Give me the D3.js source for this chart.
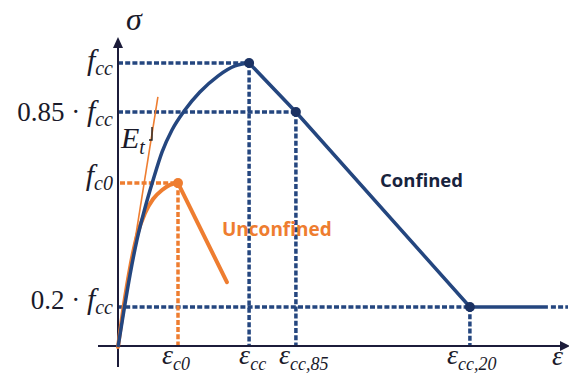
<!DOCTYPE html>
<html>
<head>
<meta charset="utf-8">
<script src="https://cdn.jsdelivr.net/npm/d3@7/dist/d3.min.js"></script>
<style>
  html, body { margin: 0; padding: 0; background: #fff; }
  svg { display: block; }
</style>
</head>
<body>
<svg id="chart" width="569" height="376"></svg>
<script>
// Schematic stress–strain model for confined and unconfined concrete.
// Strain in ‰, stress as a fraction of the confined strength f_cc
// (the stress axis is drawn schematically, not to one uniform scale).

// Characteristic strains
const epsC0 = 2.0, epsCC = 4.37, epsCC85 = 5.93, epsCC20 = 11.73, epsEnd = 15.0;
// Characteristic stress levels
const fcc = 1.0, fcc85 = 0.85, fcc20 = 0.2, fc0 = 0.613;

// Confined curve, ascending branch
const confinedStrain = [0, 0.2, 0.4, 0.63, 0.9, 1.17, 1.47, 1.8, 2.23, 2.73, 3.33, 3.9, 4.37];
const confinedStress = [0, 0.185, 0.307, 0.423, 0.53, 0.623, 0.717, 0.79, 0.856, 0.911, 0.96, 0.991, 1.0];
// Confined curve, softening branch and residual plateau
const confinedTailStrain = [4.37, 5.93, 11.73, 14.33];
const confinedTailStress = [1.0, 0.85, 0.2, 0.2];

// Unconfined curve, ascending branch
const unconfinedStrain = [0, 0.2, 0.4, 0.63, 0.9, 1.17, 1.47, 1.73, 2.0];
const unconfinedStress = [0, 0.21, 0.33, 0.437, 0.513, 0.56, 0.59, 0.607, 0.613];
// Unconfined softening branch
const unconfinedTailStrain = [2.0, 3.63];
const unconfinedTailStress = [0.613, 0.283];

// Tangent modulus line E_t
const tangentStrain = [0, 1.33];
const tangentStress = [0, 0.896];

const svg = d3.select("#chart");

const x = d3.scaleLinear().domain([0, epsEnd]).range([118, 568]);
const y = d3.scaleLinear().domain([0, fcc20, fcc85, fcc]).range([347, 307, 112, 63]);

const BLUE = "#24467f", DOT = "#1b3263", ORANGE = "#ee7d30", AXIS = "#1c1c3a", INK = "#1a1a2a";

const zip = (xs, ys) => xs.map((v, i) => [v, ys[i]]);
const line = d3.line().x(d => x(d[0])).y(d => y(d[1]));
const smooth = d3.line().x(d => x(d[0])).y(d => y(d[1])).curve(d3.curveMonotoneX);

// Dotted reference lines
const dotted = (g, x1, y1, x2, y2, color) =>
  g.append("line").attr("x1", x1).attr("y1", y1).attr("x2", x2).attr("y2", y2)
    .attr("stroke", color).attr("stroke-width", 3.5).attr("stroke-dasharray", "5,2.2");

const guides = svg.append("g");
[[epsCC, fcc], [epsCC85, fcc85], [epsCC20, fcc20]].forEach(([e, s]) => {
  dotted(guides, x(0), y(s), x(e), y(s), BLUE);
  dotted(guides, x(e), y(s), x(e), y(0), BLUE);
});
dotted(guides, x(0) + 2, y(fc0), x(epsC0), y(fc0), ORANGE);
dotted(guides, x(epsC0), y(fc0), x(epsC0), y(0), ORANGE);
// dotted continuation of the residual plateau
dotted(guides, x(14.33) + 3, y(fcc20), x(epsEnd), y(fcc20), BLUE);

// Axes
const axes = svg.append("g");
axes.append("line").attr("x1", 98).attr("y1", y(0) - 1).attr("x2", 562).attr("y2", y(0) - 1)
  .attr("stroke", AXIS).attr("stroke-width", 2);
axes.append("path").attr("d", `M570,${y(0) - 1} L560,${y(0) - 6} L560,${y(0) + 4} Z`).attr("fill", AXIS);
axes.append("line").attr("x1", x(0)).attr("y1", 367).attr("x2", x(0)).attr("y2", 45)
  .attr("stroke", AXIS).attr("stroke-width", 2);
axes.append("path").attr("d", `M${x(0)},37 L${x(0) - 5},48 L${x(0) + 5},48 Z`).attr("fill", AXIS);

// Tangent line
svg.append("path").attr("d", line(zip(tangentStrain, tangentStress)))
  .attr("fill", "none").attr("stroke", ORANGE).attr("stroke-width", 1.6);
svg.append("path").attr("d", "M152,127 V140 H149")
  .attr("fill", "none").attr("stroke", "#222").attr("stroke-width", 1.4);

// Unconfined curve
svg.append("path").attr("d", smooth(zip(unconfinedStrain, unconfinedStress)))
  .attr("fill", "none").attr("stroke", ORANGE).attr("stroke-width", 4).attr("stroke-linecap", "round");
svg.append("path").attr("d", line(zip(unconfinedTailStrain, unconfinedTailStress)))
  .attr("fill", "none").attr("stroke", ORANGE).attr("stroke-width", 4).attr("stroke-linecap", "round");

// Confined curve
svg.append("path").attr("d", smooth(zip(confinedStrain, confinedStress)))
  .attr("fill", "none").attr("stroke", BLUE).attr("stroke-width", 3.5);
svg.append("path").attr("d", line(zip(confinedTailStrain, confinedTailStress)))
  .attr("fill", "none").attr("stroke", BLUE).attr("stroke-width", 3.5);

// Characteristic points
[[epsCC, fcc], [epsCC85, fcc85], [epsCC20, fcc20]].forEach(([e, s]) =>
  svg.append("circle").attr("cx", x(e)).attr("cy", y(s)).attr("r", 5).attr("fill", DOT));
svg.append("circle").attr("cx", x(epsC0)).attr("cy", y(fc0)).attr("r", 5).attr("fill", ORANGE);

// Stress labels on the vertical axis
const SERIF = "'Liberation Serif', 'Times New Roman', serif";
function stressLabel(prefix, sub, s, dyBase) {
  const t = svg.append("text").attr("x", 113).attr("y", y(s) + dyBase)
    .attr("text-anchor", "end").attr("font-family", SERIF).attr("font-size", 27).attr("fill", INK);
  if (prefix) t.append("tspan").text(prefix);
  t.append("tspan").attr("font-style", "italic").attr("font-size", 30).text("f");
  t.append("tspan").attr("font-style", "italic").attr("font-size", 20).attr("dy", 5).text(sub);
}
stressLabel(null, "cc", fcc, 7);
stressLabel("0.85 \u00B7 ", "cc", fcc85, 9);
stressLabel(null, "c0", fc0, 2);
stressLabel("0.2 \u00B7 ", "cc", fcc20, 2);

// Strain labels on the horizontal axis
function strainLabel(sub, e, shift) {
  const t = svg.append("text").attr("x", x(e) + shift).attr("y", 364)
    .attr("font-family", SERIF).attr("font-size", 28).attr("font-style", "italic").attr("fill", INK);
  t.append("tspan").text("\u03B5");
  t.append("tspan").attr("font-size", 18).attr("dy", 6).text(sub);
}
strainLabel("c0", epsC0, -16);
strainLabel("cc", epsCC, -10);
strainLabel("cc,85", epsCC85, -17);
strainLabel("cc,20", epsCC20, -23);

// Axis titles
svg.append("text").attr("x", 552).attr("y", 365).attr("font-family", SERIF).attr("font-size", 28)
  .attr("font-style", "italic").attr("fill", INK).text("\u03B5");
svg.append("text").attr("x", 126).attr("y", 30).attr("font-family", SERIF).attr("font-size", 32)
  .attr("font-style", "italic").attr("fill", INK).text("\u03C3");

// Tangent modulus label
const et = svg.append("text").attr("x", 121).attr("y", 148).attr("font-family", SERIF)
  .attr("font-size", 30).attr("font-style", "italic").attr("fill", INK);
et.append("tspan").text("E");
et.append("tspan").attr("font-size", 20).attr("dy", 6).text("t");

// Curve names
const SANS = "'Open Sans', 'Noto Sans', sans-serif";
svg.append("text").attr("x", 380).attr("y", 187).attr("font-family", SANS).attr("font-weight", 700)
  .attr("font-size", 18.5).attr("fill", "#17233d").text("Confined");
svg.append("text").attr("x", 222).attr("y", 236).attr("font-family", SANS).attr("font-weight", 700)
  .attr("font-size", 19).attr("fill", ORANGE).text("Unconfined");
</script>
</body>
</html>
